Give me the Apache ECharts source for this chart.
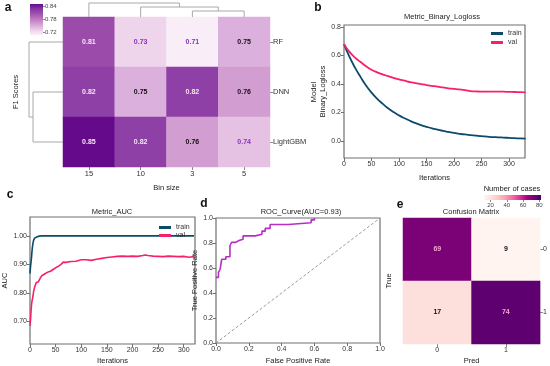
<!DOCTYPE html>
<html><head><meta charset="utf-8">
<script src="https://cdn.jsdelivr.net/npm/echarts@6/dist/echarts.min.js"></script>
<style>html,body{margin:0;padding:0;background:#fff}#c{width:550px;height:366px}</style>
</head><body><div id="c"></div>
<script>
// ---- data ----
const binSizes = ['15', '10', '3', '5'];
const models = ['RF', 'DNN', 'LightGBM'];
const f1Scores = [
  [0.81, 0.73, 0.71, 0.75],
  [0.82, 0.75, 0.82, 0.76],
  [0.85, 0.82, 0.76, 0.74]
];
const f1Ticks = [0.72, 0.78, 0.84];
// dendrogram links: [leafA, leafB, heightA, heightB, mergeHeight]
const colLinkage = [[2.5, 3.5, 0, 0, 6], [1.5, 3.0, 0, 6, 10], [0.5, 2.25, 0, 10, 14]];
const rowLinkage = [[1.5, 2.5, 0, 0, 30], [0.5, 2.0, 0, 30, 34]];

const lossIters = [0,10,20,30,40,50,60,70,80,90,100,110,120,130,140,150,160,170,180,190,200,210,220,230,240,250,260,270,280,290,300,310,320,330];
const lossTrain = [0.680,0.590,0.515,0.450,0.390,0.340,0.298,0.262,0.230,0.203,0.180,0.160,0.142,0.126,0.112,0.100,0.089,0.080,0.071,0.064,0.057,0.051,0.046,0.042,0.038,0.034,0.031,0.028,0.026,0.024,0.022,0.020,0.018,0.017];
const lossVal = [0.680,0.625,0.585,0.555,0.525,0.500,0.482,0.467,0.455,0.443,0.432,0.423,0.414,0.407,0.400,0.393,0.387,0.381,0.376,0.370,0.366,0.362,0.357,0.350,0.348,0.347,0.347,0.346,0.346,0.346,0.345,0.344,0.343,0.342];
const lossYTicks = [0.0, 0.2, 0.4, 0.6, 0.8];
const iterTicks = [0, 50, 100, 150, 200, 250, 300];

const aucIters = [0,1,2,3,4,5,6,7,8,9,10,12,14,16,18,20,23,26,30,35,40,45,50,55,60,65,70,80,90,100,110,120,130,140,150,160,170,180,190,200,210,220,225,230,240,250,260,270,280,290,300,310,320];
const aucTrain = [0.868,0.892,0.888,0.925,0.948,0.965,0.976,0.984,0.989,0.992,0.994,0.996,0.997,0.998,0.999,0.999,1.0,1.0,1.0,1.0,1.0,1.0,1.0,1.0,1.0,1.0,1.0,1.0,1.0,1.0,1.0,1.0,1.0,1.0,1.0,1.0,1.0,1.0,1.0,1.0,1.0,1.0,1.0,1.0,1.0,1.0,1.0,1.0,1.0,1.0,1.0,1.0,1.0];
const aucVal = [0.685,0.705,0.735,0.760,0.772,0.778,0.790,0.805,0.812,0.820,0.826,0.836,0.840,0.838,0.845,0.852,0.860,0.864,0.868,0.873,0.876,0.882,0.888,0.893,0.899,0.908,0.907,0.910,0.911,0.916,0.916,0.914,0.918,0.921,0.924,0.926,0.928,0.929,0.928,0.929,0.928,0.931,0.933,0.931,0.929,0.928,0.927,0.929,0.928,0.927,0.928,0.925,0.927];
const aucYTicks = [0.70, 0.80, 0.90, 1.00];

const rocFpr = [0, 0.015, 0.015, 0.025, 0.025, 0.035, 0.035, 0.06, 0.06, 0.085, 0.085, 0.095, 0.095, 0.12, 0.12, 0.14, 0.14, 0.165, 0.165, 0.24, 0.24, 0.28, 0.28, 0.30, 0.30, 0.33, 0.33, 0.44, 0.44, 0.58, 0.58, 0.60, 0.60];
const rocTpr = [0.525, 0.525, 0.565, 0.565, 0.59, 0.59, 0.67, 0.67, 0.69, 0.69, 0.78, 0.78, 0.805, 0.805, 0.82, 0.82, 0.83, 0.83, 0.857, 0.857, 0.87, 0.87, 0.895, 0.895, 0.917, 0.917, 0.948, 0.948, 0.962, 0.962, 0.985, 0.985, 1.0];
const chanceLine = [[0, 0], [1, 1]];
const rateTicks = [0, 0.2, 0.4, 0.6, 0.8, 1.0];

const confLabels = ['0', '1'];
const confMatrix = [[69, 9], [17, 74]];
const caseTicks = [20, 40, 60, 80];

// ---- styles ----
const FONT = 'Liberation Sans, Arial, sans-serif';
const f1Palette = ['#f9eef7','#efd5ec','#dcb0dc','#c98dc8','#b46bb9','#9b4cab','#8334a0','#640a8a'];
const rdPu = ['#fff7f3','#fde0dd','#fcc5c0','#fa9fb5','#f768a1','#dd3497','#ae017e','#7a0177','#49006a'];
const trainColor = '#0b4a6b';
const valColor = '#f7206b';
const frame = {show: true, borderColor: '#707070', borderWidth: 1.2, backgroundColor: 'transparent'};
const tickLbl = {fontSize: 7, color: '#333', fontFamily: FONT, margin: 3};
const nameStyle = {fontSize: 7.5, color: '#222', fontFamily: FONT};

function stops(colors) {
  return colors.map((c, i) => ({offset: i / (colors.length - 1), color: c}));
}
function valueAxis(grid, min, max, ticks, digits, extra) {
  return Object.assign({
    type: 'value', gridIndex: grid, min: min, max: max,
    splitLine: {show: false},
    axisLine: {show: false, onZero: false},
    axisTick: {show: true, length: 3, lineStyle: {color: '#707070'}, customValues: ticks},
    axisLabel: Object.assign({}, tickLbl, {customValues: ticks, formatter: v => v.toFixed(digits)}),
    nameLocation: 'middle', nameTextStyle: nameStyle
  }, extra || {});
}
const hidden = g => ({type: 'value', gridIndex: g, show: false, min: 0, max: 1});

function dendroItem(vertical) {
  return function (params, api) {
    const a = api.value(0), b = api.value(1), ha = api.value(2), hb = api.value(3), h = api.value(4);
    const pts = vertical
      ? [api.coord([a, ha]), api.coord([a, h]), api.coord([b, h]), api.coord([b, hb])]
      : [api.coord([ha, a]), api.coord([h, a]), api.coord([h, b]), api.coord([hb, b])];
    return {type: 'polyline', shape: {points: pts}, style: {stroke: '#a8a8a8', lineWidth: 1, fill: null}};
  };
}

const heatA = [];
f1Scores.forEach((row, r) => row.forEach((v, c) => heatA.push([c, r, v])));
const heatE = [];
confMatrix.forEach((row, r) => row.forEach((v, c) => heatE.push([c, r, v])));

const chart = echarts.init(document.getElementById('c'), null, {renderer: 'canvas'});
chart.setOption({
  animation: false,
  textStyle: {fontFamily: FONT},
  grid: [
    {left: 63, top: 17, width: 207, height: 150},                   // 0 a heatmap
    Object.assign({left: 344, top: 25, width: 181, height: 133}, frame), // 1 b
    Object.assign({left: 26, top: 217, width: 169, height: 129}, frame), // 2 c
    Object.assign({left: 216, top: 218, width: 164, height: 128}, frame),// 3 d
    {left: 403, top: 218, width: 138, height: 130},                  // 4 e
    {left: 484, top: 195, width: 57, height: 5},                     // 5 e colorbar
    {left: 30, top: 4, width: 13, height: 31},                       // 6 a colorbar
    {left: 63, top: 3, width: 207, height: 14},                      // 7 top dendrogram
    {left: 29, top: 17, width: 34, height: 150}                      // 8 left dendrogram
  ],
  xAxis: [
    {type: 'category', gridIndex: 0, data: binSizes, axisLine: {show: false},
     axisTick: {show: true, alignWithLabel: true, length: 3, lineStyle: {color: '#888'}},
     axisLabel: Object.assign({}, tickLbl, {fontSize: 7.5}), name: 'Bin size', nameLocation: 'middle', nameGap: 17, nameTextStyle: nameStyle},
    valueAxis(1, 0, 329, iterTicks, 0, {name: 'Iterations', nameGap: 16}),
    valueAxis(2, 0, 322, iterTicks, 0, {name: 'Iterations', nameGap: 13}),
    valueAxis(3, 0, 1, rateTicks, 1, {name: 'False Positive Rate', nameGap: 14}),
    {type: 'category', gridIndex: 4, data: confLabels, axisLine: {show: false},
     axisTick: {show: true, alignWithLabel: true, length: 3, lineStyle: {color: '#888'}},
     axisLabel: tickLbl, name: 'Pred', nameLocation: 'middle', nameGap: 13, nameTextStyle: nameStyle},
    valueAxis(5, 12, 82, caseTicks, 0, {axisTick: {show: true, length: 2, lineStyle: {color: '#888'}, customValues: caseTicks},
      axisLabel: {fontSize: 6, color: '#444', margin: 2, customValues: caseTicks, fontFamily: FONT}}),
    hidden(6),
    {type: 'value', gridIndex: 7, show: false, min: 0, max: 4},
    {type: 'value', gridIndex: 8, show: false, min: 0, max: 34, inverse: true}
  ],
  yAxis: [
    {type: 'category', gridIndex: 0, data: models, inverse: true, position: 'right', axisLine: {show: false},
     axisTick: {show: true, alignWithLabel: true, length: 3, lineStyle: {color: '#888'}},
     axisLabel: Object.assign({}, tickLbl, {fontSize: 7.5}), name: 'Model', nameLocation: 'middle', nameGap: 33, nameRotate: 90, nameTextStyle: nameStyle},
    {type: 'category', gridIndex: 0, data: models, inverse: true, position: 'left', axisLine: {show: false},
     axisTick: {show: false}, axisLabel: {show: false}, name: 'F1 Scores', nameLocation: 'middle', nameGap: 43, nameRotate: 90, nameTextStyle: nameStyle},
    valueAxis(1, -0.119, 0.814, lossYTicks, 1, {name: 'Binary_Logloss', nameGap: 17}),
    valueAxis(2, 0.621, 1.066, aucYTicks, 2, {name: 'AUC', nameGap: 21}),
    valueAxis(3, 0, 1, rateTicks, 1, {name: 'True Positive Rate', nameGap: 16}),
    {type: 'category', gridIndex: 4, data: confLabels, inverse: true, position: 'right', axisLine: {show: false},
     axisTick: {show: true, alignWithLabel: true, length: 3, lineStyle: {color: '#888'}}, axisLabel: tickLbl},
    {type: 'category', gridIndex: 4, data: confLabels, inverse: true, position: 'left', axisLine: {show: false},
     axisTick: {show: false}, axisLabel: {show: false}, name: 'True', nameLocation: 'middle', nameGap: 10, nameRotate: 90, nameTextStyle: nameStyle},
    hidden(5),
    valueAxis(6, 0.706, 0.85, f1Ticks, 2, {position: 'right',
      axisTick: {show: true, length: 2, lineStyle: {color: '#888'}, customValues: f1Ticks},
      axisLabel: {fontSize: 6, color: '#444', margin: 2, customValues: f1Ticks, fontFamily: FONT, formatter: v => v.toFixed(2)}}),
    {type: 'value', gridIndex: 7, show: false, min: 0, max: 14},
    {type: 'value', gridIndex: 8, show: false, min: 0, max: 3, inverse: true}
  ],
  visualMap: [
    {type: 'continuous', seriesIndex: 0, min: 0.71, max: 0.85, show: false, dimension: 2, inRange: {color: f1Palette}},
    {type: 'continuous', seriesIndex: 7, min: 8, max: 78, show: false, dimension: 2, inRange: {color: rdPu}}
  ],
  legend: [
    {data: ['train', 'val'], orient: 'vertical', left: 486, top: 25, itemWidth: 12, itemHeight: 3, itemGap: 2, icon: 'rect',
     textStyle: {fontSize: 7, color: '#333', fontFamily: FONT}},
    {data: ['train', 'val'], orient: 'vertical', left: 154, top: 219, itemWidth: 12, itemHeight: 3, itemGap: 1, icon: 'rect',
     textStyle: {fontSize: 7, color: '#333', fontFamily: FONT}}
  ],
  series: [
    {type: 'heatmap', xAxisIndex: 0, yAxisIndex: 0, data: heatA,
     label: {show: true, fontSize: 7, fontWeight: 'bold', fontFamily: FONT,
       formatter: p => { const v = p.value[2]; const k = v >= 0.8 ? 'w' : (v >= 0.75 ? 'k' : 'p'); return '{' + k + '|' + v.toFixed(2) + '}'; },
       rich: {w: {color: '#f3e6f3', fontSize: 7, fontWeight: 'bold'}, k: {color: '#111', fontSize: 7, fontWeight: 'bold'}, p: {color: '#8a33b8', fontSize: 7, fontWeight: 'bold'}}}},
    {type: 'line', name: 'train', xAxisIndex: 1, yAxisIndex: 2, showSymbol: false, smooth: true, color: trainColor,
     lineStyle: {width: 1.8}, data: lossIters.map((x, i) => [x, lossTrain[i]])},
    {type: 'line', name: 'val', xAxisIndex: 1, yAxisIndex: 2, showSymbol: false, smooth: true, color: valColor,
     lineStyle: {width: 1.8}, data: lossIters.map((x, i) => [x, lossVal[i]])},
    {type: 'line', name: 'train', xAxisIndex: 2, yAxisIndex: 3, showSymbol: false, color: trainColor,
     lineStyle: {width: 1.6}, data: aucIters.map((x, i) => [x, aucTrain[i]])},
    {type: 'line', name: 'val', xAxisIndex: 2, yAxisIndex: 3, showSymbol: false, color: valColor,
     lineStyle: {width: 1.6}, data: aucIters.map((x, i) => [x, aucVal[i]])},
    {type: 'line', name: 'roc', xAxisIndex: 3, yAxisIndex: 4, showSymbol: false, color: '#b52fc6',
     lineStyle: {width: 1.6}, data: rocFpr.map((x, i) => [x, rocTpr[i]])},
    {type: 'line', name: 'chance', xAxisIndex: 3, yAxisIndex: 4, showSymbol: false, color: '#9a9a9a',
     lineStyle: {width: 1, type: [3, 2]}, data: chanceLine},
    {type: 'heatmap', xAxisIndex: 4, yAxisIndex: 5, data: heatE,
     label: {show: true, fontSize: 7, fontWeight: 'bold', fontFamily: FONT,
       formatter: p => { const v = p.value[2]; return '{' + (v >= 50 ? 'l' : 'k') + '|' + v + '}'; },
       rich: {l: {color: '#f4a6cf', fontSize: 7, fontWeight: 'bold'}, k: {color: '#111', fontSize: 7, fontWeight: 'bold'}}}},
    {type: 'custom', xAxisIndex: 7, yAxisIndex: 9, renderItem: dendroItem(true), data: colLinkage, silent: true},
    {type: 'custom', xAxisIndex: 8, yAxisIndex: 10, renderItem: dendroItem(false), data: rowLinkage, silent: true}
  ],
  graphic: [
    {type: 'rect', shape: {x: 30, y: 4, width: 13, height: 31}, silent: true,
     style: {fill: new echarts.graphic.LinearGradient(0, 1, 0, 0, stops(f1Palette))}},
    {type: 'rect', shape: {x: 484, y: 195, width: 57, height: 5}, silent: true,
     style: {fill: new echarts.graphic.LinearGradient(0, 0, 1, 0, stops(rdPu))}},
    {type: 'text', x: 8, y: 8, style: {text: 'a', font: 'bold 12px ' + FONT, fill: '#111', textAlign: 'center', textVerticalAlign: 'middle'}},
    {type: 'text', x: 318, y: 8, style: {text: 'b', font: 'bold 12px ' + FONT, fill: '#111', textAlign: 'center', textVerticalAlign: 'middle'}},
    {type: 'text', x: 10, y: 195, style: {text: 'c', font: 'bold 12px ' + FONT, fill: '#111', textAlign: 'center', textVerticalAlign: 'middle'}},
    {type: 'text', x: 204, y: 204, style: {text: 'd', font: 'bold 12px ' + FONT, fill: '#111', textAlign: 'center', textVerticalAlign: 'middle'}},
    {type: 'text', x: 400, y: 205, style: {text: 'e', font: 'bold 12px ' + FONT, fill: '#111', textAlign: 'center', textVerticalAlign: 'middle'}},
    {type: 'text', x: 442, y: 17, style: {text: 'Metric_Binary_Logloss', font: '7.5px ' + FONT, fill: '#222', textAlign: 'center', textVerticalAlign: 'middle'}},
    {type: 'text', x: 112, y: 212, style: {text: 'Metric_AUC', font: '7.5px ' + FONT, fill: '#222', textAlign: 'center', textVerticalAlign: 'middle'}},
    {type: 'text', x: 301, y: 212, style: {text: 'ROC_Curve(AUC=0.93)', font: '7.5px ' + FONT, fill: '#222', textAlign: 'center', textVerticalAlign: 'middle'}},
    {type: 'text', x: 471, y: 212, style: {text: 'Confusion Matrix', font: '7.5px ' + FONT, fill: '#222', textAlign: 'center', textVerticalAlign: 'middle'}},
    {type: 'text', x: 512, y: 189, style: {text: 'Number of cases', font: '7.5px ' + FONT, fill: '#222', textAlign: 'center', textVerticalAlign: 'middle'}}
  ]
});
</script></body></html>
